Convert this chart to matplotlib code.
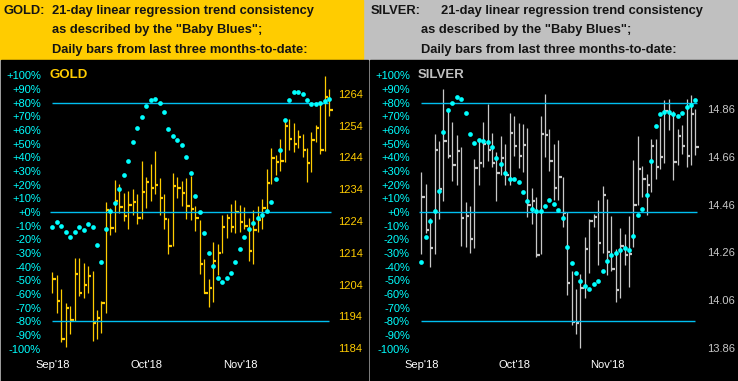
import numpy as np
import matplotlib.pyplot as plt
from matplotlib.patches import Rectangle

plt.rcParams['font.family'] = ['Liberation Sans', 'DejaVu Sans']

## data (63 daily bars, Sep'18 .. Nov'18)

gold_high = [1207.9, 1206.9, 1202.6, 1198.2, 1197.2, 1212.3, 1212.3, 1210.7, 1209.7, 1208.3,
             1196.1, 1198.8, 1229.9, 1228.2, 1236.9, 1235.6, 1232.8, 1233.4, 1234.1, 1232.5,
             1242.8, 1237.7, 1241.9, 1245.9, 1237.5, 1232.4, 1224.9, 1239.1, 1238.0, 1236.6,
             1237.5, 1238.1, 1228.7, 1224.4, 1212.0, 1205.8, 1217.3, 1216.9, 1226.0, 1226.3,
             1229.4, 1230.6, 1229.1, 1228.5, 1224.9, 1227.5, 1228.6, 1231.0, 1240.3, 1247.1,
             1244.8, 1249.7, 1256.2, 1256.2, 1255.0, 1252.6, 1251.5, 1247.1, 1251.9, 1254.3,
             1261.4, 1269.6, 1265.7]
gold_low = [1201.4, 1194.9, 1185.8, 1184.5, 1188.4, 1192.5, 1200.5, 1199.8, 1201.2, 1186.1,
            1186.8, 1188.6, 1194.9, 1219.5, 1220.4, 1226.6, 1223.9, 1221.6, 1226.0, 1223.0,
            1224.5, 1228.2, 1230.4, 1232.5, 1226.0, 1221.4, 1213.6, 1216.0, 1231.3, 1228.6,
            1224.7, 1224.2, 1220.8, 1207.3, 1201.2, 1196.8, 1198.4, 1207.1, 1213.8, 1218.5,
            1220.4, 1220.3, 1220.4, 1221.6, 1211.4, 1210.5, 1220.6, 1221.6, 1226.8, 1235.6,
            1238.4, 1239.8, 1242.6, 1246.5, 1245.7, 1247.1, 1244.1, 1236.3, 1239.5, 1248.8,
            1245.0, 1246.0, 1256.9]
gold_close = [1205.7, 1198.7, 1186.8, 1196.5, 1192.7, 1207.4, 1201.5, 1204.0, 1206.8, 1191.8,
              1193.4, 1198.2, 1227.6, 1221.7, 1230.4, 1228.3, 1225.5, 1228.9, 1230.1, 1224.8,
              1233.2, 1236.4, 1234.5, 1235.4, 1231.1, 1224.5, 1216.1, 1235.1, 1234.5, 1232.9,
              1228.6, 1227.9, 1224.8, 1210.5, 1201.4, 1203.0, 1211.5, 1213.9, 1222.0, 1224.8,
              1222.1, 1226.8, 1223.7, 1222.4, 1214.6, 1221.1, 1224.2, 1228.0, 1236.0, 1243.8,
              1242.6, 1242.9, 1253.8, 1249.9, 1248.2, 1250.4, 1246.3, 1242.3, 1249.4, 1253.2,
              1246.5, 1263.1, 1258.8]
gold_blues = [-11.2, -7.0, -9.9, -14.8, -18.4, -14.3, -11.2, -13.3, -8.5, -11.2,
              -24.2, -36.6, -12.6, 0.5, 6.3, 16.5, 26.7, 37.6, 51.4, 61.6,
              69.6, 77.6, 81.7, 82.4, 79.8, 73.2, 60.8, 55.8, 52.8, 49.2,
              40.5, 28.4, 11.6, -0.2, -15.5, -29.8, -39.3, -48.0, -51.2, -48.0,
              -44.6, -36.6, -27.2, -18.4, -12.6, -8.2, -4.6, -2.4, 0.5, 7.0,
              24.5, 45.6, 67.4, 81.9, 87.8, 87.8, 86.3, 81.9, 79.0, 79.0,
              79.8, 81.2, 82.7]

silver_high = [14.598, 14.548, 14.404, 14.757, 14.728, 14.944, 14.860, 14.807, 14.753, 14.701,
               14.471, 14.454, 14.651, 14.729, 14.807, 14.882, 14.761, 14.682, 14.746, 14.714,
               14.845, 14.832, 14.803, 14.799, 14.782, 14.531, 14.491, 14.832, 14.924, 14.778,
               14.715, 14.732, 14.576, 14.427, 14.181, 14.105, 14.171, 14.326, 14.401, 14.422,
               14.477, 14.538, 14.485, 14.414, 14.272, 14.360, 14.335, 14.410, 14.648, 14.749,
               14.623, 14.588, 14.736, 14.736, 14.824, 14.899, 14.903, 14.852, 14.776, 14.794,
               14.903, 14.920, 14.861]
silver_low = [14.251, 14.342, 14.198, 14.255, 14.399, 14.474, 14.654, 14.560, 14.541, 14.286,
              14.284, 14.258, 14.277, 14.541, 14.616, 14.644, 14.616, 14.474, 14.584, 14.541,
              14.541, 14.662, 14.612, 14.598, 14.408, 14.379, 14.240, 14.255, 14.658, 14.599,
              14.481, 14.477, 14.367, 14.081, 13.955, 13.918, 13.859, 14.068, 14.173, 14.367,
              14.206, 14.259, 14.165, 14.181, 14.052, 14.068, 14.206, 14.114, 14.282, 14.460,
              14.491, 14.415, 14.512, 14.567, 14.609, 14.633, 14.771, 14.562, 14.624, 14.672,
              14.616, 14.624, 14.666]
silver_close = [14.491, 14.355, 14.277, 14.690, 14.524, 14.725, 14.665, 14.624, 14.683, 14.404,
                14.411, 14.314, 14.612, 14.634, 14.715, 14.687, 14.633, 14.591, 14.654, 14.583,
                14.758, 14.704, 14.662, 14.708, 14.460, 14.474, 14.248, 14.755, 14.750, 14.641,
                14.528, 14.574, 14.424, 14.132, 13.968, 13.965, 14.110, 14.273, 14.390, 14.407,
                14.298, 14.499, 14.261, 14.190, 14.102, 14.286, 14.248, 14.252, 14.457, 14.608,
                14.565, 14.541, 14.704, 14.616, 14.658, 14.850, 14.840, 14.638, 14.746, 14.704,
                14.662, 14.838, 14.700]
silver_blues = [-36.6, -18.4, -6.8, 0.5, 15.0, 58.7, 74.7, 79.8, 84.1, 82.7,
                72.5, 57.2, 50.7, 52.8, 52.1, 51.4, 47.8, 39.8, 35.4, 28.8,
                24.5, 24.5, 21.6, 14.3, 7.8, 1.9, 0.5, 0.5, 4.1, 8.5,
                5.6, 1.2, -4.6, -25.7, -37.3, -44.6, -50.4, -54.1, -56.2, -52.6,
                -50.4, -43.2, -35.9, -31.5, -30.1, -27.9, -26.4, -27.9, -17.7, -2.4,
                1.9, 12.8, 37.6, 63.0, 71.8, 73.2, 73.2, 71.8, 70.3, 72.5,
                76.8, 78.3, 81.9]

months = ["Sep'18", "Oct'18", "Nov'18"]
month_pos = [0, 21, 42]
pct_ticks = list(range(-100, 101, 10))
levels = [80, 0, -80]
gold_ticks = [1184, 1194, 1204, 1214, 1224, 1234, 1244, 1254, 1264]
silver_ticks = [13.86, 14.06, 14.26, 14.46, 14.66, 14.86]

header_lines = ["21-day linear regression trend consistency",
                'as described by the "Baby Blues";',
                "Daily bars from last three months-to-date:"]

# colours
GOLD = '#ffcc00'
SILV = '#c8c8c8'
CYAN = '#00ffff'
LINE = '#00bff0'

W, H = 738, 381
fig = plt.figure(figsize=(W / 100, H / 100), dpi=100, facecolor='#c0c0c0')


def px(x, y):
    return x / W, 1 - y / H


# header + panel backgrounds
for (x0, y0, w, h, c) in [(0, 59, 363, 59, GOLD), (1, 381, 367, 321, 'black'),
                          (370, 381, 368, 321, 'black')]:
    fig.patches.append(Rectangle(px(x0, y0), w / W, h / H, transform=fig.transFigure,
                                 color=c, zorder=-10))

hdr = dict(fontsize=9.3, fontweight='bold', color='#141414', va='center', ha='left')
for i, y in enumerate([11, 30.5, 50]):
    fig.text(*px(52, y), header_lines[i], **hdr)
    fig.text(*px(441 if i == 0 else 421, y), header_lines[i], **hdr)
fig.text(*px(4, 11), "GOLD:", **hdr)
fig.text(*px(371, 11), "SILVER:", **hdr)


def panel(x_left, x_first, step, high, low, close, blues, ticks, fmt,
          price_zero, price_per_pct, bar_col, name, name_col, spans):
    # axes box covers y 70..354 px -> +-103.65 %
    top, bot = 70, 354
    half = (212.3 - top) / 1.37
    x_right = x_left + 290
    ax = fig.add_axes([x_left / W, 1 - bot / H, (x_right - x_left) / W, (bot - top) / H])
    ax.set_facecolor('none')
    idx = np.arange(len(close))
    ax.set_xlim((x_left - x_first) / step, (x_right - x_first) / step)
    ax.set_ylim(price_zero - half * price_per_pct, price_zero + half * price_per_pct)

    # HLC bars with close tick on the right
    ax.vlines(idx, low, high, color=bar_col, lw=0.9)
    ax.hlines(close, idx, idx + 0.75, color=bar_col, lw=1.6)

    ax.set_xticks(month_pos)
    ax.set_xticklabels(months)
    ax.tick_params(axis='x', length=0, pad=4.5, labelsize=8, labelcolor='white')
    for s in ax.spines.values():
        s.set_visible(False)

    # percent scale on top
    ax2 = ax.twinx()
    ax2.set_ylim(-half, half)
    for lev, (a, b) in zip(levels, spans):
        ax2.hlines(lev, a, b, color=LINE, lw=1.0)
    ax2.plot(idx, blues, 'o', ms=3.4, color=CYAN, mec='none')
    ax2.set_yticks(pct_ticks)
    ax2.set_yticklabels([f'{t:+d}%' for t in pct_ticks])
    for s in ax2.spines.values():
        s.set_visible(False)
    ax2.text(3.0 / 290, 1 - 5 / 284, name, transform=ax2.transAxes, color=name_col,
             fontsize=9.5, fontweight='bold', va='center', ha='left')

    # swap sides: prices right, percent left
    ax.yaxis.tick_right()
    ax2.yaxis.tick_left()
    ax.set_yticks(ticks)
    ax.set_yticklabels([fmt % t for t in ticks])
    ax.tick_params(axis='y', length=0, pad=1.5, labelsize=8, labelcolor=bar_col)
    ax2.tick_params(axis='y', length=0, pad=3.6, labelsize=8, labelcolor=CYAN)


panel(46, 52.3, 4.468, gold_high, gold_low, gold_close, gold_blues, gold_ticks, '%d',
      1226.84, 0.4303, GOLD, 'GOLD', GOLD,
      [(-0.1, 61.8), (-0.5, 62.4), (-0.1, 61.9)])
panel(415, 421.3, 4.42, silver_high, silver_low, silver_close, silver_blues, silver_ticks, '%.2f',
      14.4288, 0.005723, SILV, 'SILVER', '#c0c0c0',
      [(0.0, 62.4), (-0.5, 62.4), (0.0, 61.9)])

fig.savefig('out.png', dpi=100, facecolor=fig.get_facecolor())
